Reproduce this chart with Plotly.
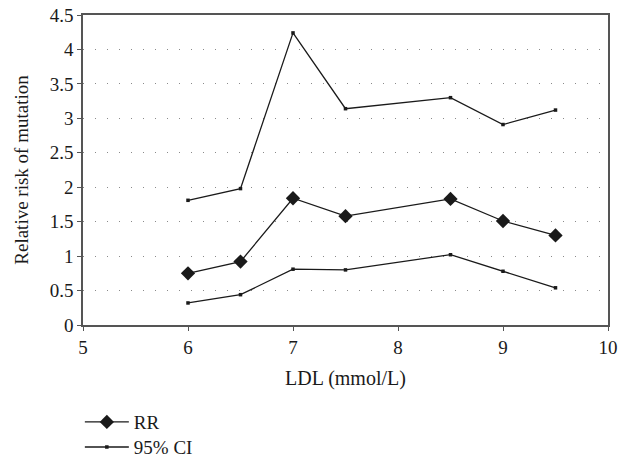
import plotly.graph_objects as go

ldl = [6, 6.5, 7, 7.5, 8.5, 9, 9.5]
rr = [0.75, 0.92, 1.84, 1.58, 1.83, 1.51, 1.30]
ci_upper = [1.81, 1.98, 4.24, 3.14, 3.30, 2.91, 3.12]
ci_lower = [0.32, 0.44, 0.81, 0.80, 1.02, 0.78, 0.54]

FONT = "Liberation Serif"
INK = "#1a1a1a"
AXIS = "#555555"

fig = go.Figure()
fig.add_trace(go.Scatter(x=ldl, y=rr, mode="lines+markers", name="RR",
                         legend="legend",
                         line=dict(color=INK, width=1.3),
                         marker=dict(symbol="diamond", size=11, color=INK)))
fig.add_trace(go.Scatter(x=ldl, y=ci_upper, mode="lines+markers", name="95% CI",
                         legend="legend2", legendgroup="ci",
                         line=dict(color=INK, width=1.3),
                         marker=dict(symbol="square", size=3.5, color=INK)))
fig.add_trace(go.Scatter(x=ldl, y=ci_lower, mode="lines+markers", name="95% CI",
                         legend="legend2", legendgroup="ci", showlegend=False,
                         line=dict(color=INK, width=1.3),
                         marker=dict(symbol="square", size=3.5, color=INK)))

legend_common = dict(xanchor="left", yanchor="middle", orientation="v",
                     font=dict(family=FONT, size=19, color=INK),
                     bgcolor="rgba(0,0,0,0)", itemwidth=44)

fig.update_layout(
    width=622, height=452,
    margin=dict(l=75, r=22, t=7, b=135, autoexpand=False),
    paper_bgcolor="white", plot_bgcolor="white",
    font=dict(family=FONT, size=19, color=INK),
    showlegend=True,
    legend=dict(x=-0.006, y=-0.313, **legend_common),
    legend2=dict(x=-0.006, y=-0.394, **legend_common),
    xaxis=dict(range=[5, 10], dtick=1, tick0=5, automargin=False,
               showline=True, mirror=True, linecolor=AXIS, linewidth=1.5,
               ticks="outside", ticklen=4, tickcolor=AXIS,
               showgrid=False, zeroline=False, ticklabeloverflow="allow",
               tickfont=dict(family=FONT, size=19)),
    yaxis=dict(range=[0, 4.5], dtick=0.5, tick0=0, automargin=False,
               showline=True, mirror=True, linecolor=AXIS, linewidth=1.5,
               ticks="outside", ticklen=4, tickcolor=AXIS,
               showgrid=True, gridcolor="#8a8a8a", gridwidth=1, griddash="1px,11px",
               zeroline=False, ticklabeloverflow="allow",
               title=dict(text="Relative risk of mutation", font=dict(family=FONT, size=19), standoff=16),
               tickfont=dict(family=FONT, size=19)),
    annotations=[dict(text="LDL (mmol/L)", x=0.5, y=0, xref="paper", yref="paper",
                      xanchor="center", yanchor="middle", yshift=-53, showarrow=False,
                      font=dict(family=FONT, size=20, color=INK))],
)

fig.write_html("out.html")
